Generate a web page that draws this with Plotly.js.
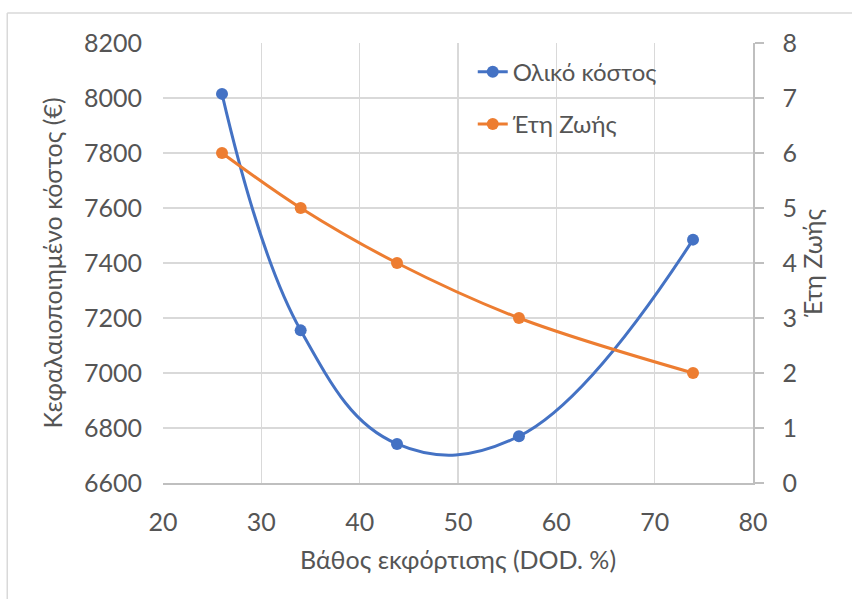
<!DOCTYPE html>
<html>
<head>
<meta charset="utf-8">
<script src="https://cdn.plot.ly/plotly-3.0.1.min.js"></script>
<style>html,body{margin:0;padding:0;background:#fff;}#chart{width:852px;height:599px;}</style>
</head>
<body>
<div id="chart"></div>
<script>
const dod = [26, 34, 43.8, 56.2, 73.9];
const totalCost = [8015, 7155, 6742, 6770, 7485];
const lifeYears = [6, 5, 4, 3, 2];
const seriesNames = ["Ολικό κόστος", "Έτη Ζωής"];
const xTitle = "Βάθος εκφόρτισης (DOD. %)";
const yTitle = "Κεφαλαιοποιημένο κόστος (€)";
const y2Title = "Έτη Ζωής";

const FONT = "Lato, 'Open Sans', sans-serif";
const TXT = "#555555";
const GRID = "#d9d9d9";
const AX = "#bfbfbf";

const traces = [
  {x: dod, y: totalCost, name: seriesNames[0], type: "scatter", mode: "lines+markers",
   line: {color: "#4472C4", width: 3, shape: "spline", smoothing: 1.15},
   marker: {color: "#4472C4", size: 12}, legendgroup: "a"},
  {x: dod, y: lifeYears, name: seriesNames[1], type: "scatter", mode: "lines+markers", yaxis: "y2",
   line: {color: "#ED7D31", width: 3, shape: "spline", smoothing: 1},
   marker: {color: "#ED7D31", size: 12}, legendgroup: "b"}
];

const layout = {
  width: 852, height: 599,
  margin: {l: 163, r: 99, t: 43, b: 116},
  paper_bgcolor: "#fff", plot_bgcolor: "#fff",
  font: {family: FONT, color: TXT, size: 24},
  showlegend: true,
  legend: {x: 0.525, y: 0.985, xanchor: "left", yanchor: "top", bgcolor: "rgba(0,0,0,0)",
           font: {size: 24, color: TXT}, traceorder: "grouped", tracegroupgap: 18},
  xaxis: {range: [20, 80], dtick: 10, tick0: 20, showgrid: true, gridcolor: GRID, gridwidth: 1.5,
          showline: true, linecolor: AX, linewidth: 1.5, zeroline: false, ticks: "",
          ticklabelstandoff: 16, tickfont: {size: 25, color: TXT},
          title: {text: xTitle, font: {size: 25, color: TXT}, standoff: 17}},
  yaxis: {range: [6600, 8200], dtick: 200, showgrid: true, gridcolor: GRID, gridwidth: 1.5,
          showline: false, zeroline: false, ticks: "",
          ticklabelstandoff: 20, tickfont: {size: 25, color: TXT},
          title: {text: yTitle, font: {size: 25, color: TXT}, standoff: 14}},
  yaxis2: {range: [0, 8], dtick: 1, overlaying: "y", side: "right", showgrid: false,
           showline: true, linecolor: AX, linewidth: 1.5, zeroline: false,
           ticks: "outside", ticklen: 9, tickcolor: AX, tickwidth: 1.5,
           ticklabelstandoff: 14, tickfont: {size: 25, color: TXT},
           title: {text: y2Title, font: {size: 25, color: TXT}, standoff: 0}},
  shapes: [
    {type: "line", xref: "paper", yref: "paper", x0: -0.264, x1: 1.2, y0: 1.068, y1: 1.068,
     line: {color: "#d9d9d9", width: 1.5}},
    {type: "line", xref: "paper", yref: "paper", x0: -0.264, x1: -0.264, y0: 1.068, y1: -0.3,
     line: {color: "#d9d9d9", width: 1.5}}
  ]
};

Plotly.newPlot("chart", traces, layout, {displayModeBar: false, staticPlot: true});
</script>
</body>
</html>
